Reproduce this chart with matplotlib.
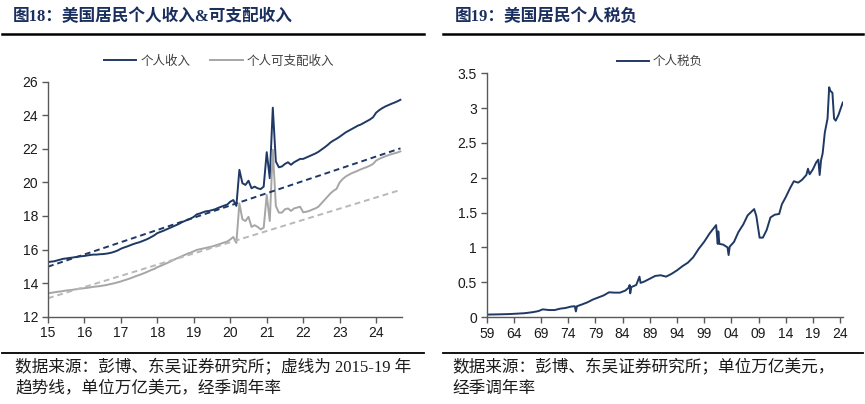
import numpy as np
import matplotlib
matplotlib.use('Agg')
import matplotlib.pyplot as plt
from matplotlib.lines import Line2D

plt.rcParams['font.family'] = ['Liberation Sans', 'Noto Sans CJK SC']

# ---- figure 18: personal income & disposable income (monthly, 2015-01 .. 2024-09)
income = [
    15.25, 15.28, 15.30, 15.35, 15.40, 15.45, 15.47, 15.50, 15.52, 15.55, 15.58, 15.60,
    15.62, 15.65, 15.68, 15.70, 15.70, 15.72, 15.73, 15.75, 15.78, 15.82, 15.88, 15.95,
    16.05, 16.12, 16.18, 16.25, 16.32, 16.38, 16.43, 16.50, 16.57, 16.65, 16.75, 16.85,
    16.98, 17.05, 17.12, 17.20, 17.28, 17.36, 17.44, 17.52, 17.62, 17.70, 17.78, 17.85,
    17.95, 18.10, 18.15, 18.22, 18.28, 18.30, 18.35, 18.40, 18.48, 18.55, 18.62, 18.68,
    18.85, 18.95, 18.60, 20.75, 19.95, 19.85, 20.10, 19.65, 19.75, 19.65, 19.60, 19.75,
    21.80, 20.25, 24.45, 21.25, 20.90, 20.95, 21.10, 21.20, 21.05, 21.20, 21.30, 21.40,
    21.40, 21.48, 21.56, 21.64, 21.72, 21.82, 21.95, 22.08, 22.22, 22.38, 22.50, 22.60,
    22.72, 22.85, 22.98, 23.08, 23.18, 23.28, 23.38, 23.45, 23.55, 23.65, 23.75, 23.88,
    24.15, 24.30, 24.42, 24.52, 24.60, 24.68, 24.75, 24.83, 24.92,
]
disposable = [
    13.40, 13.42, 13.45, 13.48, 13.50, 13.53, 13.56, 13.58, 13.60, 13.63, 13.66, 13.68,
    13.70, 13.72, 13.75, 13.78, 13.80, 13.82, 13.85, 13.88, 13.92, 13.96, 14.00, 14.05,
    14.10, 14.16, 14.22, 14.28, 14.35, 14.42, 14.48, 14.55, 14.62, 14.70, 14.78, 14.85,
    14.95, 15.02, 15.10, 15.18, 15.26, 15.35, 15.44, 15.52, 15.60, 15.68, 15.76, 15.82,
    15.90, 15.98, 16.02, 16.06, 16.10, 16.14, 16.18, 16.24, 16.30, 16.36, 16.42, 16.48,
    16.60, 16.75, 16.40, 18.75, 17.80, 17.70, 17.95, 17.35, 17.45, 17.35, 17.20, 17.30,
    19.25, 17.70, 21.95, 18.60, 18.20, 18.20, 18.40, 18.45, 18.30, 18.45, 18.50, 18.55,
    18.22, 18.25, 18.30, 18.38, 18.45, 18.55, 18.75, 18.95, 19.15, 19.35, 19.50, 19.62,
    20.00, 20.20, 20.35, 20.45, 20.55, 20.62, 20.70, 20.78, 20.85, 20.92, 21.00, 21.10,
    21.30, 21.40, 21.48, 21.55, 21.62, 21.68, 21.73, 21.78, 21.85,
]
# 2015-19 trend lines, read at both ends
trend_x = [2015.0, 2024.67]
income_trend = [14.98, 22.03]
disposable_trend = [13.10, 19.55]
left_ticks = list(range(2015, 2025))
left_labels = ['15', '16', '17', '18', '19', '20', '21', '22', '23', '24']

# ---- figure 19: personal taxes (1959 .. 2024)
tax_x = [
    1959.0, 1961.0, 1963.0, 1964.5, 1966.0, 1967.5, 1968.5, 1969.3, 1970.5, 1971.5,
    1972.5, 1973.5, 1974.5, 1975.2, 1975.4, 1975.6, 1976.5, 1977.5, 1978.5, 1979.5,
    1980.5, 1981.5, 1982.5, 1983.5, 1984.5, 1985.1, 1985.3, 1985.4, 1985.6, 1986.5,
    1987.1, 1987.3, 1988.0, 1989.0, 1990.0, 1991.0, 1992.0, 1993.0, 1994.0, 1995.0,
    1996.0, 1997.0, 1998.0, 1999.0, 2000.0, 2000.8, 2001.2, 2001.5, 2001.6, 2001.8,
    2002.5, 2003.3, 2003.5, 2003.7, 2004.5, 2005.3, 2006.2, 2007.0, 2007.8, 2008.2,
    2008.6, 2009.2, 2009.8, 2010.5, 2011.2, 2012.0, 2012.8, 2013.3, 2014.0, 2014.8,
    2015.5, 2016.3, 2017.0, 2017.8, 2018.1, 2018.4, 2019.0, 2019.6, 2020.0, 2020.25,
    2020.5, 2020.8, 2021.2, 2021.7, 2022.0, 2022.2, 2022.6, 2022.9, 2023.2, 2023.7,
    2024.5,
]
tax = [
    0.035, 0.038, 0.042, 0.048, 0.055, 0.07, 0.085, 0.11, 0.10, 0.10,
    0.12, 0.13, 0.15, 0.155, 0.08, 0.155, 0.18, 0.21, 0.25, 0.28,
    0.31, 0.355, 0.35, 0.35, 0.38, 0.42, 0.46, 0.34, 0.43, 0.46,
    0.58, 0.49, 0.51, 0.55, 0.59, 0.60, 0.58, 0.62, 0.67, 0.73,
    0.78, 0.86, 0.98, 1.08, 1.20, 1.28, 1.32, 1.05, 1.23, 1.05,
    1.04, 1.00, 0.89, 1.01, 1.08, 1.22, 1.33, 1.46, 1.52, 1.55,
    1.45, 1.14, 1.14, 1.25, 1.43, 1.47, 1.48, 1.62, 1.72, 1.85,
    1.95, 1.93, 1.97, 2.04, 2.13, 2.05, 2.12, 2.22, 2.26, 2.04,
    2.25, 2.35, 2.65, 2.85, 3.30, 3.25, 3.22, 2.85, 2.82, 2.90,
    3.08,
]
right_ticks = list(range(1959, 2025, 5))
right_labels = ['%02d' % (y % 100) for y in right_ticks]

navy = '#1F3864'
gray = '#A6A6A6'
title_color = '#1B2F5E'
title_font = ['Liberation Serif', 'Noto Sans CJK SC']
note_font = ['Liberation Serif', 'Noto Sans CJK SC']

fig = plt.figure(figsize=(8.65, 4.04), dpi=100)

months = 2015 + np.arange(len(income)) / 12.0

ax1 = fig.add_axes([0.0555, 0.2161, 0.4092, 0.5817])
ax1.plot(months, income, color=navy, lw=1.4, label='个人收入')
ax1.plot(months, disposable, color=gray, lw=1.4, label='个人可支配收入')
ax1.plot(trend_x, income_trend, color=navy, lw=1.4, ls=(0, (3, 2)))
ax1.plot(trend_x, disposable_trend, color='#B8B8B8', lw=1.4, ls=(0, (3, 2)))
ax1.set_xlim(2015, 2024.71)
ax1.set_ylim(12, 26)
ax1.set_yticks(range(12, 27, 2))
ax1.set_xticks(left_ticks)
ax1.set_xticklabels(left_labels)

ax2 = fig.add_axes([0.5627, 0.2153, 0.4119, 0.6032])
ax2.plot(tax_x, tax, color=navy, lw=1.4, label='个人税负')
ax2.set_xlim(1959, 2024.55)
ax2.set_ylim(0, 3.5)
ax2.set_yticks([0, 0.5, 1, 1.5, 2, 2.5, 3, 3.5])
ax2.set_yticklabels(['0', '0.5', '1', '1.5', '2', '2.5', '3', '3.5'])
ax2.set_xticks(right_ticks)
ax2.set_xticklabels(right_labels)

for ax in (ax1, ax2):
    for side in ('top', 'right'):
        ax.spines[side].set_visible(False)
    for side in ('left', 'bottom'):
        ax.spines[side].set_color('#595959')
        ax.spines[side].set_linewidth(1.0)
    ax.tick_params(axis='both', direction='out', length=4, width=1.0,
                   color='#595959', labelsize=10, labelcolor='#1a1a1a', pad=3)

ax1.legend(loc='center', bbox_to_anchor=(0.483, 1.085), ncol=2, frameon=False,
           fontsize=9, handlelength=2.6, columnspacing=1.6, handletextpad=0.3,
           labelcolor='#404040')
ax2.legend(loc='center', bbox_to_anchor=(0.486, 1.046), frameon=False,
           fontsize=9, handlelength=2.6, handletextpad=0.3, labelcolor='#404040')

# titles, rules and notes
fig.text(13 / 865, 1 - 17 / 404, '图18：美国居民个人收入&可支配收入', family=title_font,
         fontsize=12, fontweight='bold', color=title_color, va='center')
fig.text(455 / 865, 1 - 17 / 404, '图19：美国居民个人税负', family=title_font,
         fontsize=12, fontweight='bold', color=title_color, va='center')

for x0, x1 in ((2, 424), (443, 863)):
    fig.add_artist(Line2D([x0 / 865, x1 / 865], [1 - 33.5 / 404] * 2, color='black', lw=1.8))
    fig.add_artist(Line2D([x0 / 865, x1 / 865], [1 - 352.5 / 404] * 2, color='black', lw=1.3))

fig.text(15 / 865, 1 - 368 / 404, '数据来源：彭博、东吴证券研究所；虚线为 2015-19 年',
         family=note_font, fontsize=12, color='#1a1a1a', va='center')
fig.text(15 / 865, 1 - 389 / 404, '趋势线，单位万亿美元，经季调年率',
         family=note_font, fontsize=12, color='#1a1a1a', va='center')
fig.text(452 / 865, 1 - 368 / 404, '数据来源：彭博、东吴证券研究所；单位万亿美元，',
         family=note_font, fontsize=12, color='#1a1a1a', va='center')
fig.text(452 / 865, 1 - 389 / 404, '经季调年率',
         family=note_font, fontsize=12, color='#1a1a1a', va='center')

fig.savefig('out.png', dpi=100)
